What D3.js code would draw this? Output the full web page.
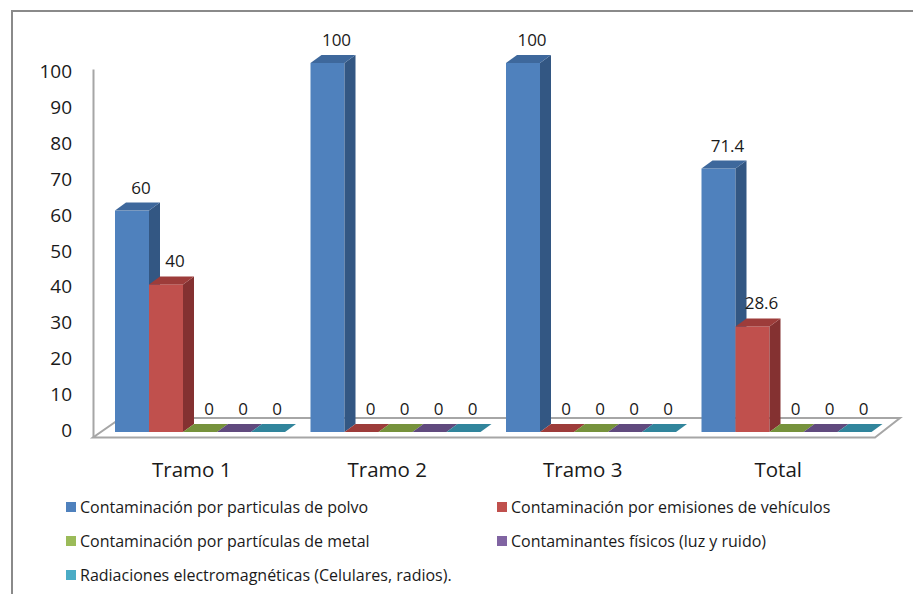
<!DOCTYPE html>
<html>
<head>
<meta charset="utf-8">
<script src="https://cdn.jsdelivr.net/npm/d3@7"></script>
<style>
  html, body { margin: 0; padding: 0; background: #fff; }
  svg { display: block; }
  text { font-family: "Open Sans", Lato, sans-serif; fill: #1a1a1a; }
</style>
</head>
<body>
<svg id="chart" width="913" height="594"></svg>
<script>
// Categories along the x axis
const categories = ["Tramo 1", "Tramo 2", "Tramo 3", "Total"];

// Series names (legend order)
const seriesNames = [
  "Contaminación por particulas de polvo",
  "Contaminación por emisiones de vehículos",
  "Contaminación por partículas de metal",
  "Contaminantes físicos (luz y ruido)",
  "Radiaciones electromagnéticas (Celulares, radios)."
];

// Percentages per series, one value per category
const polvo       = [60, 100, 100, 71.4];
const vehiculos   = [40, 0, 0, 28.6];
const metal       = [0, 0, 0, 0];
const fisicos     = [0, 0, 0, 0];
const radiaciones = [0, 0, 0, 0];

// Value axis ticks
const yTicks = [0, 10, 20, 30, 40, 50, 60, 70, 80, 90, 100];

const seriesValues = [polvo, vehiculos, metal, fisicos, radiaciones];

// Face colours: front, top, side
const palette = [
  { front: "#4F81BD", top: "#3E689C", side: "#335783", legend: "#4F81BD" },
  { front: "#C0504D", top: "#9D3C3A", side: "#843131", legend: "#C0504D" },
  { front: "#9BBB59", top: "#76923C", side: "#647D33", legend: "#9BBB59" },
  { front: "#8064A2", top: "#604A7E", side: "#503E6A", legend: "#8064A2" },
  { front: "#4BACC6", top: "#31859C", side: "#2A7286", legend: "#4BACC6" }
];

const svg = d3.select("#chart");

// Outer chart frame
svg.append("path")
  .attr("d", "M12,600 L12,11 L920,11")
  .attr("fill", "none")
  .attr("stroke", "#8a8a8a")
  .attr("stroke-width", 2);

// Scales
const x0 = d3.scaleBand().domain(categories).range([93, 875]);
const x1 = d3.scaleBand().domain(seriesNames).range([0, 170]);
const yBar = d3.scaleLinear().domain([0, 100]).range([432, 63]);
const yAxis = d3.scaleLinear().domain([0, 100]).range([430, 71.5]);

const depthX = 11, depthY = -8, groupShift = 22;

// Floor (outlined parallelogram)
const floorFront = 437.5, floorBack = 418;
svg.append("path")
  .attr("d", `M${x0.range()[0]},${floorFront} L${x0.range()[1]},${floorFront} L900,${floorBack} L121,${floorBack} Z`)
  .attr("fill", "#fff")
  .attr("stroke", "#a6a6a6")
  .attr("stroke-width", 2);

// Vertical value axis line
svg.append("line")
  .attr("x1", 93.5).attr("x2", 93.5)
  .attr("y1", yAxis(100) - 2).attr("y2", floorFront)
  .attr("stroke", "#a6a6a6")
  .attr("stroke-width", 2);

// Value axis tick labels
svg.append("g").selectAll("text")
  .data(yTicks)
  .join("text")
  .attr("x", 72)
  .attr("y", d => yAxis(d))
  .attr("dy", "0.36em")
  .attr("text-anchor", "end")
  .style("font-size", "19px")
  .text(d => d);

// Category labels
svg.append("g").selectAll("text")
  .data(categories)
  .join("text")
  .attr("x", d => x0(d) + x0.bandwidth() / 2 + 1)
  .attr("y", 477)
  .attr("text-anchor", "middle")
  .style("font-size", "20.5px")
  .text(d => d);

// 3D bars, drawn left to right so neighbours overlap correctly
const bars = [];
categories.forEach((c, ci) => {
  seriesNames.forEach((s, si) => {
    bars.push({ cat: c, series: s, si, value: seriesValues[si][ci] });
  });
});

const barG = svg.append("g");
const labelG = svg.append("g");
const bw = x1.bandwidth();
bars.forEach(b => {
  const xl = x0(b.cat) + groupShift + x1(b.series);
  const xr = xl + bw;
  const yt = yBar(b.value);
  const yb = yBar(0);
  const col = palette[b.si];
  const g = barG.append("g");
  if (b.value > 0) {
    // front face
    g.append("rect")
      .attr("x", xl).attr("y", yt)
      .attr("width", bw).attr("height", yb - yt)
      .attr("fill", col.front);
    // side face
    g.append("path")
      .attr("d", `M${xr},${yt} L${xr + depthX},${yt + depthY} L${xr + depthX},${yb + depthY} L${xr},${yb} Z`)
      .attr("fill", col.side);
  }
  // top face
  g.append("path")
    .attr("d", `M${xl},${yt} L${xl + depthX},${yt + depthY} L${xr + depthX},${yt + depthY} L${xr},${yt} Z`)
    .attr("fill", col.top);

  // value label
  labelG.append("text")
    .attr("x", xl + bw / 2 + 9)
    .attr("y", yt + depthY - 9)
    .attr("text-anchor", "middle")
    .style("font-size", "17px")
    .text(b.value);
});

// Legend
const legendItems = [
  { i: 0, x: 66, y: 507 },
  { i: 1, x: 497, y: 507 },
  { i: 2, x: 66, y: 541 },
  { i: 3, x: 497, y: 541 },
  { i: 4, x: 66, y: 575 }
];
const lg = svg.append("g").selectAll("g")
  .data(legendItems)
  .join("g")
  .attr("transform", d => `translate(${d.x},${d.y})`);
lg.append("rect")
  .attr("x", 0).attr("y", -5)
  .attr("width", 10).attr("height", 10)
  .attr("fill", d => palette[d.i].legend);
lg.append("text")
  .attr("x", 14)
  .attr("y", 0)
  .attr("dy", "0.36em")
  .style("font-size", "16px")
  .text(d => seriesNames[d.i]);
</script>
</body>
</html>
